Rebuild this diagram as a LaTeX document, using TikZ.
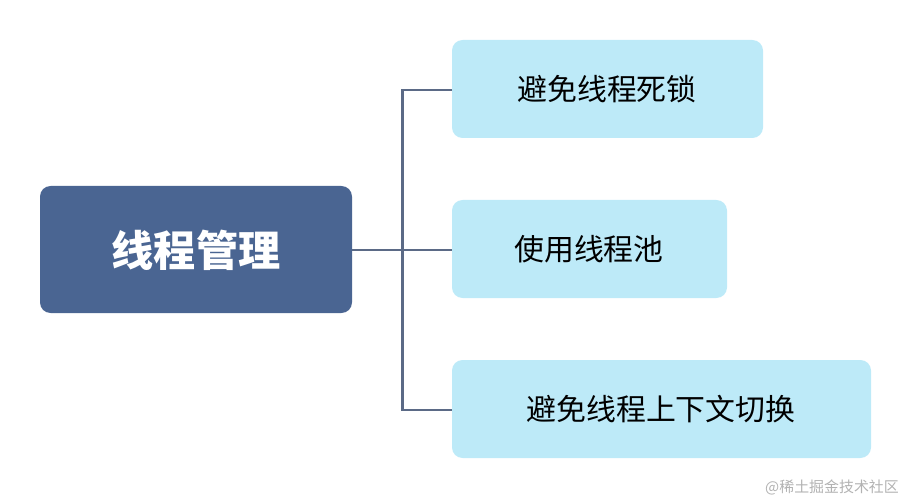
\documentclass[tikz,border=0pt]{standalone}
\usepackage{fontspec}
\newfontfamily\cjk{Noto Sans CJK SC}
\definecolor{mainc}{HTML}{4A6592}
\definecolor{boxc}{HTML}{BDEAF8}
\definecolor{linec}{HTML}{5B6A86}
\begin{document}
\begin{tikzpicture}[x=0.02cm,y=-0.02cm,
  leaf/.style={fill=boxc,rounded corners=6pt,inner sep=0pt,font=\cjk\fontsize{17}{20}\selectfont,text=black},
  conn/.style={draw=linec,line width=1.7pt}]
\useasboundingbox (0,0) rectangle (912,503);
\fill[mainc,rounded corners=6pt] (40,186) rectangle (352,313);
\node[font=\cjk\bfseries\fontsize{24}{28}\selectfont,text=white] (m) at (196,250) {线程管理};
\coordinate (mr) at (352,250);
\fill[leaf] (452,40) rectangle (763,138);
\node[leaf,fill=none] (a) at (607,89) {避免线程死锁};
\fill[leaf] (452,200) rectangle (727,298);
\node[leaf,fill=none] (b) at (589,249) {使用线程池};
\fill[leaf] (452,360) rectangle (871,458);
\node[leaf,fill=none] (c) at (661,409) {避免线程上下文切换};
\coordinate (al) at (452,90);
\coordinate (bl) at (452,250);
\coordinate (cl) at (452,410);
\draw[conn] (mr) -- (bl);
\draw[conn] (al) -- (402,90) -- (402,410) -- (cl);
\node[font=\cjk\fontsize{8.5}{10}\selectfont,text=gray!60,anchor=east] (w) at (905,487) {@稀土掘金技术社区};
\end{tikzpicture}
\end{document}
